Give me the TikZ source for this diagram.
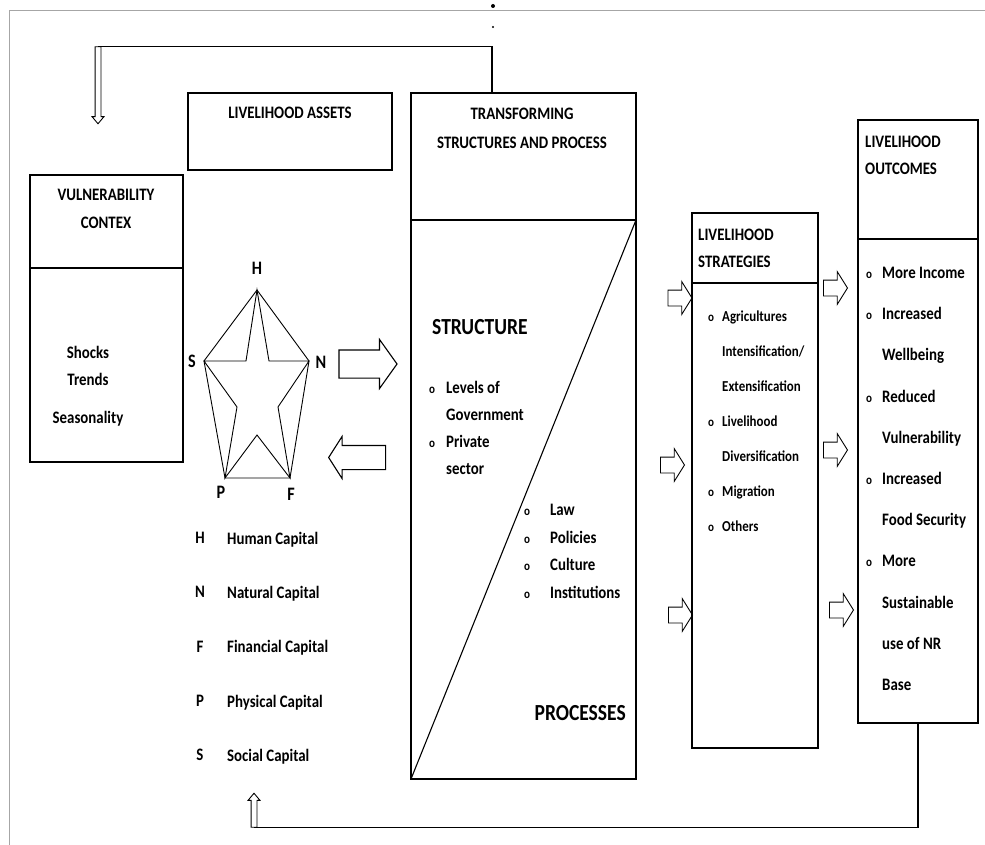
\documentclass[tikz,border=0pt]{standalone}
\usepackage{fontspec}
\setmainfont{Carlito}[FakeStretch=0.85]
\usetikzlibrary{arrows.meta,positioning,shapes.arrows,calc}
\newcommand{\bul}[1][14pt]{\makebox[#1][l]{\fontsize{13}{10}\selectfont o}}
\newcommand{\ind}[1][14pt]{\hspace*{#1}}
\tikzset{
  box/.style={draw,line width=1.1pt,inner sep=0pt,outer sep=0pt,anchor=north west},
  title/.style={inner sep=0pt,align=center,font=\bfseries\fontsize{17.5}{#1}\selectfont},
  title/.default=27,
  bodytext/.style={inner sep=0pt,align=left,font=\bfseries\fontsize{17.5}{#1}\selectfont},
  bodytext/.default=27,
  lstext/.style={inner sep=0pt,align=left,font=\bfseries\fontsize{15.2}{#1}\selectfont},
  bigword/.style={inner sep=0pt,font=\bfseries\fontsize{23}{24}\selectfont},
  letter/.style={inner sep=0pt,font=\bfseries\fontsize{19}{20}\selectfont},
  fat/.style={draw,line width=1.1pt,single arrow,single arrow head indent=0pt},
  thin/.style={draw,line width=0.9pt,single arrow,single arrow head indent=0pt,inner sep=2.5pt,
    single arrow head extend=3pt,single arrow tip angle=80},
  link/.style={line width=1.1pt},
  frame/.style={line width=1pt,draw=gray!70},
}
\begin{document}
\begin{tikzpicture}[x=1pt,y=-1pt]
\useasboundingbox (0,0) rectangle (985,845);
% outer frame
\draw[frame] (9,845) -- (9,11) -- (985,11);
\fill (493,6) circle (2pt);
\fill (493,27) circle (1.2pt);

% livelihood assets
\node[box,minimum width=204pt,minimum height=77pt] (la) at (188,93) {};
\node[title,below=14pt of la.north] (latxt) {LIVELIHOOD ASSETS};

% vulnerability context
\node[box,minimum width=153pt,minimum height=93pt] (vc) at (30,175) {};
\node[box,minimum width=153pt,minimum height=194pt] (vcb) at (vc.south west) {};
\node[title=28] (vctxt) at (106,209) {VULNERABILITY\\CONTEX};
\node[bodytext=27,align=center,anchor=north] (shock) at (88,346) {Shocks\\Trends\\[11pt]Seasonality};

% transforming structures
\node[box,minimum width=225pt,minimum height=127pt] (tsh) at (411,93) {};
\node[box,minimum width=225pt,minimum height=559pt] (tsb) at (tsh.south west) {};
\draw[link] (tsb.north east) -- (tsb.south west);
\node[title=29] (tstxt) at (522,128) {TRANSFORMING\\STRUCTURES AND PROCESS};
\node[bigword,anchor=west] (struct) at (432,327) {STRUCTURE};
\node[bodytext=27,anchor=north west] (slist) at (429,381)
  {\bul[17pt]Levels of\\\ind[17pt]Government\\\bul[17pt]Private\\\ind[17pt]sector};
\node[bodytext=27.5,anchor=north west] (plist) at (524,504)
  {\bul[26pt]Law\\\bul[26pt]Policies\\\bul[26pt]Culture\\\bul[26pt]Institutions};
\node[bigword,anchor=east] (proc) at (626,713) {PROCESSES};

% livelihood strategies
\node[box,minimum width=126pt,minimum height=70pt] (lsh) at (692,213) {};
\node[box,minimum width=126pt,minimum height=465pt] (lsb) at (lsh.south west) {};
\node[title=27,align=left,anchor=north west] (lstxt) at (698,229) {LIVELIHOOD\\STRATEGIES};
\node[lstext=35,anchor=north west] (lslist) at (708,311)
  {\bul[14pt]Agricultures\\\ind[14pt]Intensification/\\\ind[14pt]Extensification\\
   \bul[14pt]Livelihood\\\ind[14pt]Diversification\\\bul[14pt]Migration\\\bul[14pt]Others};

% livelihood outcomes
\node[box,minimum width=120pt,minimum height=119pt] (loh) at (858,120) {};
\node[box,minimum width=120pt,minimum height=484pt] (lob) at (loh.south west) {};
\node[title=27,align=left,anchor=north west] (lotxt) at (865,136) {LIVELIHOOD\\OUTCOMES};
\node[bodytext=41.2,anchor=north west] (lolist) at (866,267)
  {\bul[16pt]More Income\\\bul[16pt]Increased\\\ind[16pt]Wellbeing\\\bul[16pt]Reduced\\
   \ind[16pt]Vulnerability\\\bul[16pt]Increased\\\ind[16pt]Food Security\\\bul[16pt]More\\
   \ind[16pt]Sustainable\\\ind[16pt]use of NR\\\ind[16pt]Base};

% asset pentagon
\coordinate (H) at (257,290);
\coordinate (N) at (309,361);
\coordinate (F) at (290,478);
\coordinate (P) at (225,478);
\coordinate (S) at (204,361);
\draw[line width=0.9pt] (H) -- (N) -- (F) -- (P) -- (S) -- cycle;
\draw[line width=0.9pt] (H) -- (269,361) -- (N) -- (278,407) -- (F) -- (257,435)
  -- (P) -- (237,407) -- (S) -- (246,361) -- cycle;
\node[letter] (Hl) at (257,268) {H};
\node[letter] (Nl) at (321,362) {N};
\node[letter] (Fl) at (291,494) {F};
\node[letter] (Pl) at (221,492) {P};
\node[letter] (Sl) at (192,361) {S};

% legend
\node[bodytext=54.25,align=center,anchor=north] (legkey) at (200,532) {H\\N\\F\\P\\S};
\node[bodytext=54.25,anchor=north west] (legtxt) at (227,532)
  {Human Capital\\Natural Capital\\Financial Capital\\Physical Capital\\Social Capital};

% block arrows
\node[fat,inner sep=13.5pt,minimum height=58pt,single arrow head extend=10.5pt,
  single arrow tip angle=109] (a1) at (363,364) {};
\node[fat,inner sep=11.5pt,minimum height=57pt,single arrow head extend=9pt,
  single arrow tip angle=115,shape border rotate=180] (a2) at (361,457.5) {};
\foreach \n/\x/\y in {b1/677.5/298,b2/670/465,b3/678/615,c1/833/288,c2/833/450,c3/839/610}
  \node[fat,line width=0.9pt,inner sep=7.5pt,minimum height=24pt,single arrow head extend=8.5pt,
    single arrow tip angle=116] (\n) at (\x,\y) {};

% feedback loops
\coordinate (fbtop) at (492,93);
\node[thin,minimum height=77pt,shape border rotate=270] (darr) at (98,83.5) {};
\draw[link] (fbtop) |- (darr.tail);
\node[thin,minimum height=34pt,shape border rotate=90] (uarr) at (254,812) {};
\draw[link] (lob.south) |- (uarr.tail);
\end{tikzpicture}
\end{document}
